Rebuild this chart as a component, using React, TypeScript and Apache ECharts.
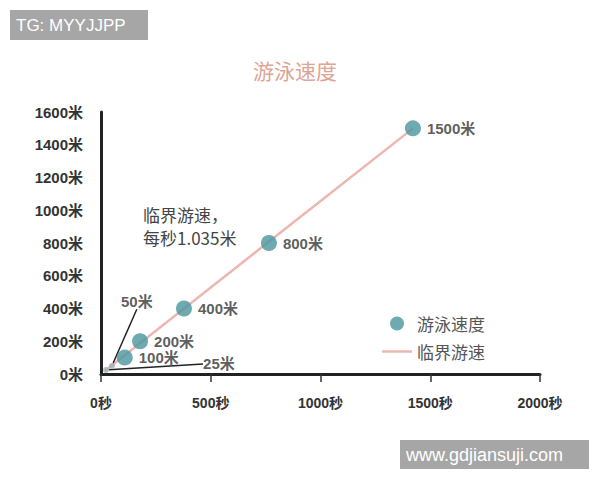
import React, { useEffect, useRef } from "react";
import * as echarts from "echarts";

const distanceNames = ["25米", "50米", "100米", "200米", "400米", "800米", "1500米"];
const distances = [25, 50, 100, 200, 400, 800, 1500];
const times = [23, 50, 108, 178, 378, 765, 1421];
const criticalLine = [
  [20, 22],
  [1421, 1500],
];
const xTicks = [0, 500, 1000, 1500, 2000];
const yTicks = [0, 200, 400, 600, 800, 1000, 1200, 1400, 1600];

const FONT = "'Liberation Sans', 'Noto Sans CJK SC', sans-serif";
const CJK = "'Noto Sans CJK SC', sans-serif";
const TEAL = "#4a959e";
const PINK = "#ebb7ae";

export default function App() {
  const ref = useRef<HTMLDivElement>(null);
  useEffect(() => {
    if (!ref.current) return;
    const chart = echarts.init(ref.current, null, { renderer: "svg" });
    const scatterData = distances.map((d, i) => {
      const small = i < 2;
      return {
        value: [times[i], d],
        name: distanceNames[i],
        symbolSize: small ? 6 : 16,
        itemStyle: { color: small ? "#9fb3b5" : TEAL },
        labelLine: small
          ? { show: true, lineStyle: { color: "#222", width: 1.5 } }
          : { show: false },
      };
    });
    chart.setOption({
      animation: false,
      backgroundColor: "#ffffff",
      title: {
        text: "游泳速度",
        left: 290,
        top: 54,
        textAlign: "center",
        textStyle: { fontFamily: CJK, fontSize: 21, fontWeight: "normal", color: "#dca595" },
      },
      legend: {
        orient: "vertical",
        left: 377,
        top: 310,
        itemWidth: 30,
        itemHeight: 14,
        itemGap: 11,
        textStyle: { fontFamily: CJK, fontSize: 17, color: "#555" },
        data: [
          { name: "游泳速度", icon: "circle" },
          { name: "临界游速", icon: "path://M0 0H30V2.5H0Z", itemStyle: { color: PINK } },
        ],
      },
      grid: { left: 101, right: 60, top: 112, bottom: 106 },
      xAxis: {
        type: "value",
        min: xTicks[0],
        max: xTicks[xTicks.length - 1],
        interval: 500,
        axisLine: { show: true, lineStyle: { color: "#222", width: 3 } },
        axisTick: { show: true, length: 8, lineStyle: { color: "#333", width: 1.5 } },
        splitLine: { show: false },
        axisLabel: {
          margin: 22,
          formatter: (v: number) => `${v}秒`,
          fontFamily: FONT,
          fontSize: 14,
          fontWeight: "bold",
          color: "#333",
        },
      },
      yAxis: {
        type: "value",
        min: yTicks[0],
        max: yTicks[yTicks.length - 1],
        interval: 200,
        axisLine: { show: true, lineStyle: { color: "#222", width: 3 } },
        axisTick: { show: false },
        splitLine: { show: false },
        axisLabel: {
          margin: 18,
          formatter: (v: number) => `${v}米`,
          fontFamily: FONT,
          fontSize: 15,
          fontWeight: "bold",
          color: "#333",
        },
      },
      graphic: [
        {
          type: "text",
          left: 143,
          top: 203,
          style: {
            text: "临界游速，\n每秒1.035米",
            fontFamily: CJK,
            fontSize: 17,
            lineHeight: 23,
            fill: "#444",
          },
        },
        {
          type: "group",
          left: 10,
          top: 10,
          children: [
            { type: "rect", shape: { x: 0, y: 0, width: 138, height: 30 }, style: { fill: "#a6a6a6" } },
            {
              type: "text",
              x: 6,
              y: 15,
              style: { text: "TG: MYYJJPP", fontFamily: FONT, fontSize: 17, fill: "#fff", verticalAlign: "middle" },
            },
          ],
        },
        {
          type: "group",
          left: 400,
          top: 440,
          children: [
            { type: "rect", shape: { x: 0, y: 0, width: 189, height: 29 }, style: { fill: "#a6a6a6" } },
            {
              type: "text",
              x: 6,
              y: 15,
              style: { text: "www.gdjiansuji.com", fontFamily: FONT, fontSize: 18, fill: "#fff", verticalAlign: "middle" },
            },
          ],
        },
      ],
      series: [
        {
          name: "临界游速",
          type: "line",
          data: criticalLine,
          symbol: "none",
          lineStyle: { color: PINK, width: 2.5 },
          itemStyle: { color: PINK },
          z: 1,
        },
        {
          name: "游泳速度",
          type: "scatter",
          data: scatterData,
          itemStyle: { color: TEAL },
          z: 3,
          label: {
            show: true,
            position: "right",
            distance: 6,
            formatter: (p: any) => p.name,
            fontFamily: FONT,
            fontSize: 15,
            fontWeight: "bold",
            color: "#333",
            offset: [0, 4],
          },
          labelLayout: (p: any) => {
            if (p.dataIndex === 0) return { dx: 88, dy: -6 };
            if (p.dataIndex === 1) return { dx: 0, dy: -64 };
            return {};
          },
        },
      ],
    });
    return () => chart.dispose();
  }, []);
  return (
    <div
      ref={ref}
      style={{ position: "fixed", left: 0, top: 0, width: 600, height: 480 }}
    />
  );
}
